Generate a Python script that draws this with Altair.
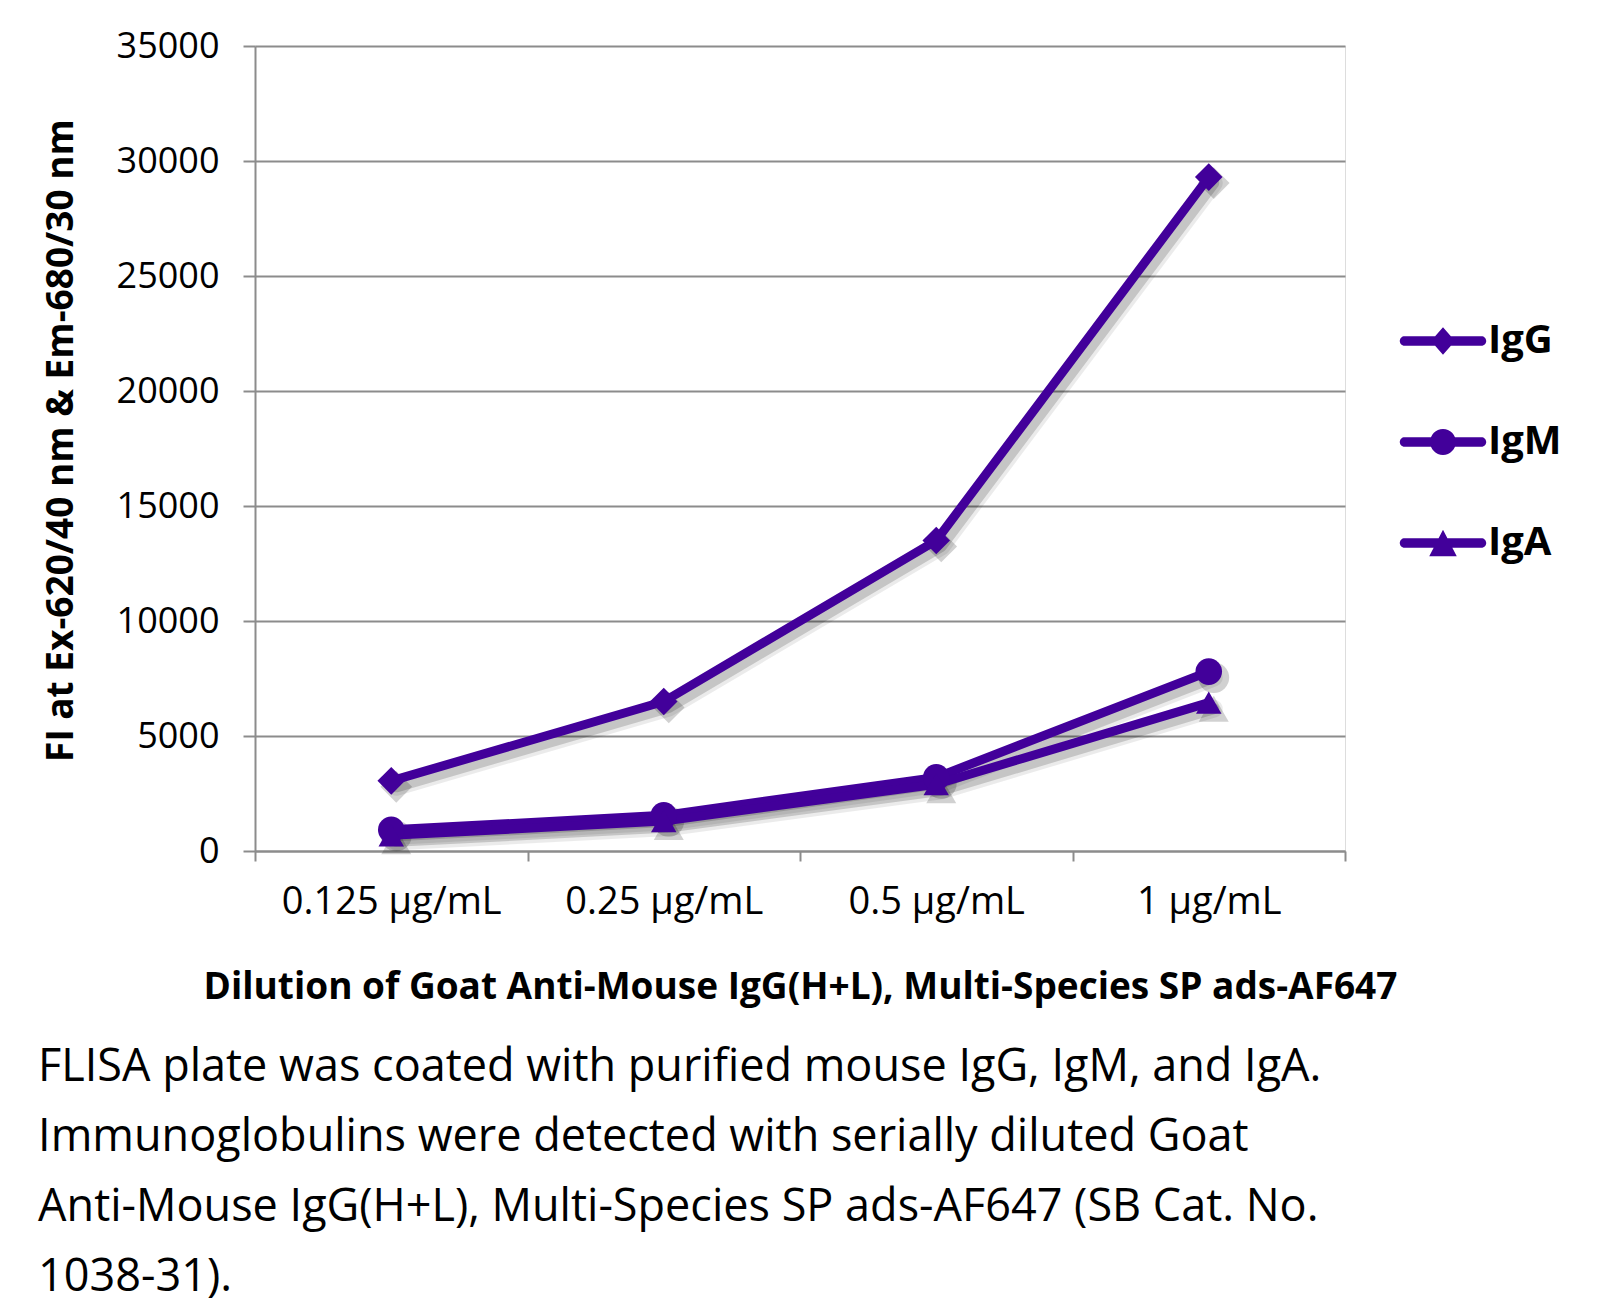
import altair as alt
import pandas as pd

concentrations = ["0.125 µg/mL", "0.25 µg/mL", "0.5 µg/mL", "1 µg/mL"]
series_names = ["IgG", "IgM", "IgA"]
igg = [3050, 6500, 13500, 29300]
igm = [920, 1550, 3200, 7800]
iga = [680, 1300, 2900, 6450]

caption_lines = [
    "FLISA plate was coated with purified mouse IgG, IgM, and IgA.",
    "Immunoglobulins were detected with serially diluted Goat",
    "Anti-Mouse IgG(H+L), Multi-Species SP ads-AF647 (SB Cat. No.",
    "1038-31).",
]

rows = []
for name, vals in zip(series_names, [igg, igm, iga]):
    for c, v in zip(concentrations, vals):
        rows.append({"conc": c, "series": name, "value": v})
df = pd.DataFrame(rows)

COLOR = "#42009A"
FONT = "Open Sans"

# legend symbols: line with rounded ends + marker (custom SVG paths, unit coords)
bar = "M-0.895,-0.11 L0.895,-0.11 A0.11,0.11 0 0 1 0.895,0.11 L-0.895,0.11 A0.11,0.11 0 0 1 -0.895,-0.11 Z "
leg_diamond = bar + "M0,-0.32 L0.28,0 L0,0.32 L-0.28,0 Z"
leg_circle = bar + "M-0.3,0 A0.3,0.3 0 1 1 0.3,0 A0.3,0.3 0 1 1 -0.3,0 Z"
leg_triangle = bar + "M0,-0.31 L0.32,0.31 L-0.32,0.31 Z"

x_enc = alt.X(
    "conc:N",
    sort=concentrations,
    scale=alt.Scale(type="band", paddingInner=0, paddingOuter=0),
    axis=alt.Axis(
        title="Dilution of Goat Anti-Mouse IgG(H+L), Multi-Species SP ads-AF647",
        titleFont=FONT, titleFontSize=37, titleFontWeight="bold", titleColor="black",
        titlePadding=48,
        labelFont=FONT, labelFontSize=38, labelColor="black", labelPadding=22,
        labelAngle=0, labelLimit=0,
        tickBand="extent", tickSize=10, tickColor="#8c8c8c", tickWidth=2,
        domainColor="#8c8c8c", domainWidth=2, grid=False,
    ),
)
y_enc = alt.Y(
    "value:Q",
    scale=alt.Scale(domain=[0, 35000], nice=False),
    axis=alt.Axis(
        title="FI at Ex-620/40 nm & Em-680/30 nm",
        titleFont=FONT, titleFontSize=37, titleFontWeight="bold", titleColor="black",
        titlePadding=36, titleY=394,
        labelFont=FONT, labelFontSize=36, labelColor="black", labelPadding=24,
        values=list(range(0, 35001, 5000)), format="d",
        tickSize=12, tickColor="#8c8c8c", tickWidth=2,
        domainColor="#8c8c8c", domainWidth=2,
        grid=True, gridColor="#8c8c8c", gridWidth=2,
    ),
)

shape_scale = alt.Scale(domain=series_names, range=["diamond", "circle", "triangle-up"])
size_scale = alt.Scale(domain=series_names, range=[760, 650, 900])

base = alt.Chart(df)

shadow_wide = base.mark_line(
    color="black", opacity=0.08, strokeWidth=18, xOffset=5, yOffset=6,
    strokeCap="round", strokeJoin="round",
).encode(x=x_enc, y=y_enc, detail="series:N")

shadow_line = base.mark_line(
    color="black", opacity=0.16, strokeWidth=11, xOffset=5, yOffset=6,
    strokeCap="round", strokeJoin="round",
).encode(x=x_enc, y=y_enc, detail="series:N")

shadow_pts = base.mark_point(
    filled=True, color="black", opacity=0.18, xOffset=5, yOffset=6,
).encode(
    x=x_enc, y=y_enc,
    shape=alt.Shape("series:N", scale=shape_scale, legend=None),
    size=alt.Size("series:N", scale=alt.Scale(domain=series_names, range=[1000, 900, 1200]), legend=None),
)

lines = base.mark_line(
    color=COLOR, strokeWidth=9, strokeJoin="round", strokeCap="round",
).encode(x=x_enc, y=y_enc, detail="series:N")

pts = base.mark_point(filled=True, color=COLOR, opacity=1).encode(
    x=x_enc, y=y_enc,
    shape=alt.Shape("series:N", scale=shape_scale, legend=None),
    size=alt.Size("series:N", scale=size_scale, legend=None),
)

legend_layer = base.mark_point(filled=True, color=COLOR, opacity=0).encode(
    x=x_enc, y=y_enc,
    shape=alt.Shape(
        "series:N",
        scale=alt.Scale(domain=series_names, range=[leg_diamond, leg_circle, leg_triangle]),
        legend=alt.Legend(
            title=None, orient="none", legendX=1145, legendY=252,
            symbolSize=7396, symbolOpacity=1, symbolFillColor=COLOR,
            symbolStrokeWidth=0, symbolStrokeColor=COLOR,
            labelFont=FONT, labelFontSize=40, labelFontWeight="bold",
            labelColor="black", labelOffset=2, rowPadding=38,
        ),
    ),
)

chart = (
    alt.layer(shadow_wide, shadow_line, shadow_pts, lines, pts, legend_layer)
    .resolve_scale(shape="independent", size="independent")
    .properties(
        width=1090,
        height=805,
        padding={"left": 30, "top": 20, "right": 5, "bottom": 10},
        title=alt.TitleParams(
            text=caption_lines,
            orient="bottom",
            anchor="start",
            font=FONT,
            fontSize=45,
            fontWeight="normal",
            color="black",
            lineHeight=70,
            offset=40,
            dx=-4,
        ),
    )
    .configure_view(stroke=None)
    .configure(background="white")
)

chart.save("out.html", embed_options={"renderer": "svg", "actions": False})
